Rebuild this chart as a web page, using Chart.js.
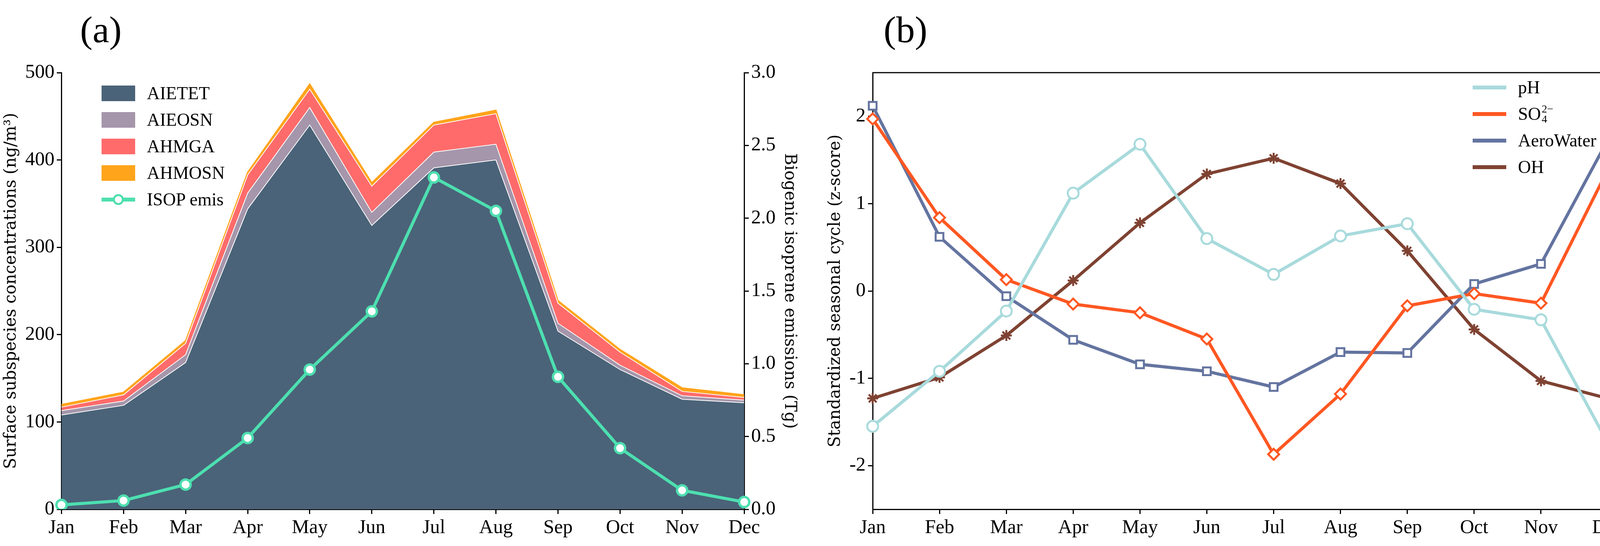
<!DOCTYPE html>
<html>
<head>
<script src="https://cdn.jsdelivr.net/npm/chart.js"></script>
<style>
  body { margin:0; background:#fff; width:4204px; height:1398px; position:relative; overflow:hidden; }
  .wrap { position:absolute; top:150px; height:1248px; }
  .plabel { position:absolute; font-family:"Liberation Serif"; font-size:96px; top:20px; }
  .legend { position:absolute; font-family:"Liberation Serif"; font-size:46px; line-height:68px; }
  .legend div { display:flex; align-items:center; }
  .sw { display:inline-block; width:86px; height:40px; margin-right:30px; }
  .ln { display:inline-block; width:86px; height:10px; margin-right:30px; }
</style>
</head>
<body>
<div class="plabel" style="left:205px;">(a)</div>
<div class="plabel" style="left:2262px;">(b)</div>
<div class="wrap" style="left:0; width:2060px;"><canvas id="ca"></canvas></div>
<div class="wrap" style="left:2110px; width:2094px;"><canvas id="cb"></canvas></div>

<div class="legend" style="left:260px; top:205px;">
  <div><span class="sw" style="background:#4a6378"></span>AIETET</div>
  <div><span class="sw" style="background:#a596ab"></span>AIEOSN</div>
  <div><span class="sw" style="background:#ff6b6b"></span>AHMGA</div>
  <div><span class="sw" style="background:#ffa41b"></span>AHMOSN</div>
  <div><span style="position:relative;display:inline-block;width:86px;height:40px;margin-right:30px;"><span style="position:absolute;left:0;top:15px;width:86px;height:10px;background:#4ddfb0"></span><span style="position:absolute;left:29px;top:6px;width:18px;height:18px;border:5px solid #4ddfb0;border-radius:50%;background:#fff"></span></span>ISOP emis</div>
</div>
<div class="legend" style="left:3770px; top:190px;">
  <div><span class="ln" style="background:#a8dadc"></span>pH</div>
  <div><span class="ln" style="background:#ff5722"></span>SO<span style="display:inline-flex;flex-direction:column;font-size:28px;line-height:26px;margin-left:2px;"><span>2−</span><span>4</span></span></div>
  <div><span class="ln" style="background:#6474a0"></span>AeroWater</div>
  <div><span class="ln" style="background:#7f4232"></span>OH</div>
</div>

<script>
const months = ['Jan','Feb','Mar','Apr','May','Jun','Jul','Aug','Sep','Oct','Nov','Dec'];
// panel (a): stacked increments, ng/m3
const aietet = [108,119,168,344,440,325,391,400,204,160,126,122];
const aieosn = [5,5,9,18,20,15,18,18,9,5,4,3];
const ahmga  = [4,7,13,21,21,30,31,35,23,15,5,3];
const ahmosn = [3,3,3,3,6,4,3,4,3,3,4,3];
const isop   = [0.03,0.06,0.17,0.49,0.96,1.36,2.28,2.05,0.91,0.42,0.13,0.05];
// panel (b): z-scores
const ph   = [-1.55,-0.92,-0.23,1.12,1.68,0.60,0.19,0.63,0.77,-0.21,-0.33,-1.74];
const so4  = [1.97,0.84,0.13,-0.15,-0.25,-0.55,-1.87,-1.18,-0.17,-0.03,-0.14,1.39];
const aero = [2.12,0.62,-0.06,-0.56,-0.84,-0.92,-1.10,-0.70,-0.71,0.08,0.31,1.73];
const oh   = [-1.23,-0.99,-0.51,0.12,0.78,1.34,1.52,1.23,0.46,-0.44,-1.03,-1.23];

Chart.defaults.devicePixelRatio = 1;
Chart.defaults.animation = false;
Chart.defaults.maintainAspectRatio = false;
Chart.defaults.color = '#000';

const tickFont = { family: 'Liberation Serif', size: 50 };
const titleFont = { family: 'DejaVu Serif', size: 42 };
const xAxis = {
  type: 'category', offset: false,
  grid: { drawOnChartArea: false, tickLength: 12, color: '#000', lineWidth: 3 },
  border: { color: '#000', width: 3 },
  ticks: { font: tickFont, maxRotation: 0, padding: 6 }
};

function area(label, data, color, fill) {
  return { label, data, backgroundColor: color, borderColor: '#fff', borderWidth: 2,
    fill, pointRadius: 0, tension: 0, stack: 'a', yAxisID: 'y', order: 2 };
}

new Chart(document.getElementById('ca'), {
  type: 'line',
  data: { labels: months, datasets: [
    area('AIETET', aietet, '#4a6378', 'origin'),
    area('AIEOSN', aieosn, '#a596ab', '-1'),
    area('AHMGA', ahmga, '#ff6b6b', '-1'),
    Object.assign(area('AHMOSN', ahmosn, '#ffa41b', '-1'), { borderColor: '#ffa41b', borderWidth: 3 }),
    { label: 'ISOP emis', data: isop, borderColor: '#4ddfb0', backgroundColor: '#fff', borderWidth: 8,
      pointRadius: 13, pointBorderWidth: 6, pointBackgroundColor: '#fff', pointBorderColor: '#4ddfb0',
      fill: false, yAxisID: 'y1', stack: 'b', order: 1 }
  ]},
  options: {
    layout: { padding: { top: 30, right: 10, bottom: 10 } },
    plugins: { legend: { display: false }, tooltip: { enabled: false } },
    scales: {
      x: xAxis,
      y: { stacked: true, min: 0, max: 500,
        ticks: { stepSize: 100, font: tickFont, padding: 6 },
        grid: { drawOnChartArea: false, tickLength: 12, color: '#000', lineWidth: 3 },
        border: { color: '#000', width: 3 },
        title: { display: true, text: 'Surface subspecies concentrations (ng/m³)', font: titleFont } },
      y1: { position: 'right', min: 0, max: 3,
        ticks: { stepSize: 0.5, font: tickFont, padding: 6, callback: v => v.toFixed(1) },
        grid: { drawOnChartArea: false, tickLength: 12, color: '#000', lineWidth: 3 },
        border: { color: '#000', width: 3 },
        title: { display: true, text: 'Biogenic isoprene emissions (Tg)', font: titleFont } }
    }
  }
});

function zline(label, data, color, style, rot) {
  return { label, data, borderColor: color, borderWidth: 8, pointStyle: style, pointRotation: rot || 0,
    pointRadius: 14, pointBorderWidth: 5, pointBackgroundColor: '#fff', pointBorderColor: color,
    fill: false, tension: 0 };
}

new Chart(document.getElementById('cb'), {
  type: 'line',
  data: { labels: months, datasets: [
    zline('pH', ph, '#a8dadc', 'circle'),
    zline('SO4', so4, '#ff5722', 'rectRot'),
    zline('AeroWater', aero, '#6474a0', 'rect'),
    zline('OH', oh, '#7f4232', 'star')
  ]},
  options: {
    layout: { padding: { top: 10, right: 80, bottom: 10 } },
    plugins: { legend: { display: false }, tooltip: { enabled: false } },
    scales: {
      x: xAxis,
      y: { min: -2.5, max: 2.5,
        afterBuildTicks: ax => { ax.ticks = [-2,-1,0,1,2].map(v => ({ value: v })); },
        ticks: { font: tickFont, padding: 6 },
        grid: { drawOnChartArea: false, tickLength: 12, color: '#000', lineWidth: 3 },
        border: { color: '#000', width: 3 },
        title: { display: true, text: 'Standardized seasonal cycle (z-score)', font: titleFont } },
      y2: { position: 'right', display: true, min: -2.5, max: 2.5,
        ticks: { display: false }, grid: { display: false },
        border: { color: '#000', width: 3 } }
    }
  },
  plugins: [{ id: 'frame', afterDraw(c) {
    const a = c.chartArea, x = c.ctx;
    x.save(); x.strokeStyle = '#000'; x.lineWidth = 3;
    x.beginPath(); x.moveTo(a.left, a.top); x.lineTo(a.right, a.top); x.stroke(); x.restore();
  }}]
});
</script>
</body>
</html>
